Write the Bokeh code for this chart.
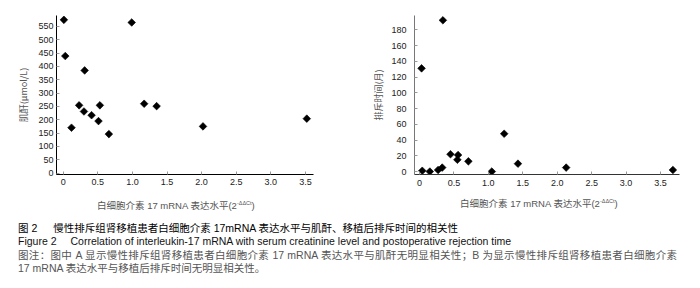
from bokeh.plotting import figure
from bokeh.models import FixedTicker, Div, Range1d, PrintfTickFormatter
from bokeh.layouts import row, column
from bokeh.embed import file_html
from bokeh.resources import INLINE
import math

# ---------------- data ----------------
x_ticks = [0, 0.5, 1.0, 1.5, 2.0, 2.5, 3.0, 3.5]

# Panel A: IL-17 mRNA vs serum creatinine (umol/L)
a_il17 = [0.01, 0.03, 0.12, 0.23, 0.30, 0.31, 0.41, 0.51, 0.53, 0.66, 0.99, 1.17, 1.35, 2.02, 3.52]
a_creat = [575, 439, 170, 254, 231, 385, 217, 195, 254, 146, 565, 260, 251, 175, 204]
a_y_ticks = [0, 50, 100, 150, 200, 250, 300, 350, 400, 450, 500, 550]

# Panel B: IL-17 mRNA vs rejection time (months)
b_il17 = [0.03, 0.04, 0.15, 0.27, 0.33, 0.34, 0.45, 0.55, 0.56, 0.71, 1.05, 1.23, 1.43, 2.13, 3.68]
b_time = [131, 1, 0, 2, 5, 192, 22, 15, 21, 13, 0, 48, 10, 5, 2]
b_y_ticks = [0, 20, 40, 60, 80, 100, 120, 140, 160, 180]

x_title_main = "白细胞介素 17 mRNA 表达水平(2"
x_title_sup = "-ΔΔCt"
x_title_end = ")"
a_y_title = "肌酐(μmol/L)"
b_y_title = "排斥时间(月)"

LAT = "Liberation Sans"
CJK = "Noto Sans CJK SC"
FIG_H = 192


def make_fig(width, b_left, b_top, fw, fh, xr, yr, yticks, y_title,
             ytick_standoff, ytitle_standoff, xtick_standoff, yaxis_color, xaxis_color):
    p = figure(width=width, height=FIG_H, output_backend="svg", toolbar_location=None,
               x_range=Range1d(*xr), y_range=Range1d(*yr),
               min_border_left=b_left, min_border_top=b_top,
               min_border_right=width - b_left - fw,
               min_border_bottom=FIG_H - b_top - fh)
    p.outline_line_color = None
    p.grid.visible = False
    p.background_fill_color = "white"
    p.border_fill_color = "white"

    p.xaxis.ticker = FixedTicker(ticks=x_ticks)
    p.xaxis.formatter = PrintfTickFormatter(format="%.1f")
    p.xaxis.major_label_overrides = {0: "0"}
    p.yaxis.ticker = FixedTicker(ticks=yticks)

    for ax in (p.xaxis, p.yaxis):
        ax.major_tick_in = 3
        ax.major_tick_out = 0
        ax.minor_tick_line_color = None
        ax.major_tick_line_color = "#999999"
        ax.major_label_text_font = LAT
        ax.major_label_text_font_size = "9px"
        ax.major_label_text_color = "#222222"
        ax.axis_line_width = 1
    p.yaxis.axis_line_color = yaxis_color
    p.xaxis.axis_line_color = xaxis_color
    p.yaxis.major_label_standoff = ytick_standoff
    p.xaxis.major_label_standoff = xtick_standoff
    p.yaxis.axis_label = y_title
    p.yaxis.axis_label_text_font = CJK
    p.yaxis.axis_label_text_font_size = "9px"
    p.yaxis.axis_label_text_font_style = "normal"
    p.yaxis.axis_label_text_color = "#555555"
    p.yaxis.axis_label_standoff = ytitle_standoff
    return p


# ---- panel A (frame: x 56..313, y 13..174) ----
pA = make_fig(348, 56, 13, 257, 161, (-0.0968, 3.617), (-5.56, 591.2), a_y_ticks, a_y_title,
              3, 5, 4, "#000000", "#000000")
pA.scatter(a_il17, a_creat, marker="square", angle=math.pi / 4, size=5.4,
           fill_color="black", line_color="black", line_width=0.6)

# ---- panel B (frame: x 414..679, y 15..177) ----
pB = make_fig(344, 66, 15, 265, 162, (-0.0726, 3.776), (-3.74, 198.1), b_y_ticks, b_y_title,
              8, 3, 5, "#777777", "#333333")
pB.scatter(b_il17, b_time, marker="square", angle=math.pi / 4, size=5.4,
           fill_color="black", line_color="black", line_width=0.6)


def xtitle_div(width, pad_left, pad_top):
    html = (
        f'<div style="padding-left:{pad_left}px;padding-top:{pad_top}px;'
        f"font-family:'Liberation Sans','Noto Sans CJK SC',sans-serif;font-size:9.5px;"
        f'line-height:12px;color:#555;white-space:nowrap;">'
        f'{x_title_main}<sup style="font-size:5.5px;vertical-align:4px;">{x_title_sup}</sup>{x_title_end}</div>'
    )
    return Div(text=html, width=width, height=18, margin=(0, 0, 0, 0))


divA = xtitle_div(348, 97, 5)
divB = xtitle_div(344, 112, 3)

caption = """
<div style="font-family:'Liberation Sans','Noto Sans CJK SC',sans-serif;font-size:10.5px;line-height:13.3px;color:#222;white-space:nowrap;">
<div style="color:#000;">图 2<span style="display:inline-block;width:16px;"></span>慢性排斥组肾移植患者白细胞介素 17mRNA 表达水平与肌酐、移植后排斥时间的相关性</div>
<div style="color:#111;">Figure 2<span style="display:inline-block;width:14px;"></span>Correlation of interleukin-17 mRNA with serum creatinine level and postoperative rejection time</div>
<div style="color:#555;width:659px;white-space:normal;text-align:justify;text-align-last:justify;">图注：图中 A 显示慢性排斥组肾移植患者白细胞介素 17 mRNA 表达水平与肌酐无明显相关性；B 为显示慢性排斥组肾移植患者白细胞介素</div>
<div style="color:#555;">17 mRNA 表达水平与移植后排斥时间无明显相关性。</div>
</div>
"""
caption_div = Div(text=caption, width=674, height=56, margin=(12, 0, 0, 18))

layout = column(row(pA, pB), row(divA, divB), caption_div)
open("out.html", "w").write(file_html(layout, INLINE))
